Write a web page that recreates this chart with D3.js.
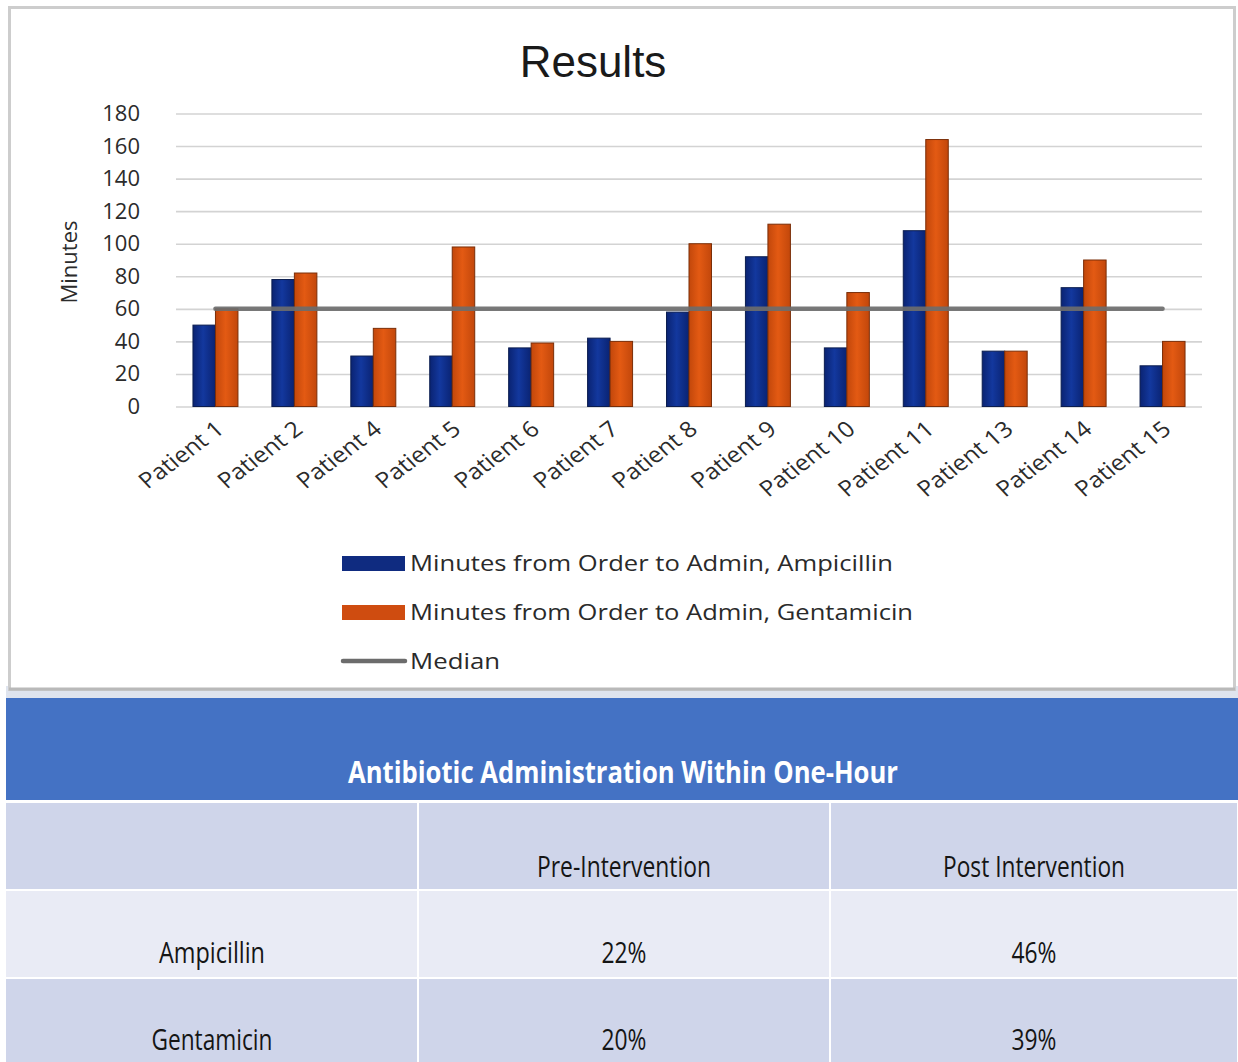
<!DOCTYPE html>
<html>
<head>
<meta charset="utf-8">
<script src="https://cdn.jsdelivr.net/npm/d3@7"></script>
<style>
    body { margin: 0; background: #ffffff; }
    svg { display: block; }
</style>
</head>
<body>
<div id="chart"></div>
<script>

const patients = ["Patient 1", "Patient 2", "Patient 4", "Patient 5", "Patient 6", "Patient 7", "Patient 8",
    "Patient 9", "Patient 10", "Patient 11", "Patient 13", "Patient 14", "Patient 15"];
const ampicillin = [50, 78, 31, 31, 36, 42, 58, 92, 36, 108, 34, 73, 25];
const gentamicin = [60, 82, 48, 98, 39, 40, 100, 112, 70, 164, 34, 90, 40];
const medianValues = [60, 60, 60, 60, 60, 60, 60, 60, 60, 60, 60, 60, 60];
const yTicks = [0, 20, 40, 60, 80, 100, 120, 140, 160, 180];

const seriesNames = ["Minutes from Order to Admin, Ampicillin", "Minutes from Order to Admin, Gentamicin", "Median"];

const tableTitle = "Antibiotic Administration Within One-Hour";
const tableHeader = ["", "Pre-Intervention", "Post Intervention"];
const tableDrugs = ["Ampicillin", "Gentamicin"];
const preIntervention = ["22%", "20%"];
const postIntervention = ["46%", "39%"];

const W = 1238, H = 1062;
const svg = d3.select("#chart").append("svg")
    .attr("width", W)
    .attr("height", H);

const defs = svg.append("defs");
function barGradient(id, edge, mid) {
    let g = defs.append("linearGradient").attr("id", id)
        .attr("x1", "0%").attr("x2", "100%").attr("y1", "0%").attr("y2", "0%");
    g.append("stop").attr("offset", "0%").attr("stop-color", edge);
    g.append("stop").attr("offset", "45%").attr("stop-color", mid);
    g.append("stop").attr("offset", "100%").attr("stop-color", edge);
}
barGradient("gradBlue", "#0a2372", "#13389e");
barGradient("gradOrange", "#c2470b", "#e35a13");

// chart panel
svg.append("rect")
    .attr("x", 6).attr("y", 686).attr("width", 1232).attr("height", 12)
    .attr("fill", "#dfe4ee");
svg.append("rect")
    .attr("x", 9.5).attr("y", 7.5).attr("width", 1225).attr("height", 682)
    .attr("fill", "#ffffff")
    .attr("stroke", "#cdcdcd")
    .attr("stroke-width", 3);
svg.append("line")
    .attr("x1", 9).attr("x2", 1235).attr("y1", 689).attr("y2", 689)
    .attr("stroke", "#b9b9b9").attr("stroke-width", 3);

const plot = {left: 176, right: 1202, top: 113.5, bottom: 406.5};

const x = d3.scaleBand()
    .domain(patients)
    .range([plot.left, plot.right])
    .paddingInner(0.43)
    .paddingOuter(0.215);

const xSub = d3.scaleBand()
    .domain(["amp", "gen"])
    .range([0, x.bandwidth()]);

const y = d3.scaleLinear()
    .domain([0, 180])
    .range([plot.bottom, plot.top]);

// title
svg.append("text")
    .text("Results")
    .attr("x", 593)
    .attr("y", 77)
    .attr("text-anchor", "middle")
    .attr("font-family", "Liberation Sans, Arial, sans-serif")
    .attr("font-size", 44)
    .attr("fill", "#1a1a1a");

// y axis + gridlines
const yAxis = svg.append("g")
    .attr("transform", `translate(${plot.left},0)`)
    .call(d3.axisLeft(y).tickValues(yTicks).tickSize(-(plot.right - plot.left)).tickPadding(36));
yAxis.select(".domain").remove();
yAxis.selectAll("line")
    .attr("stroke", "#d3d3d3")
    .attr("stroke-width", 1.6);
yAxis.selectAll("text")
    .attr("font-family", "Open Sans, sans-serif")
    .attr("font-size", 22)
    .attr("fill", "#2b2b2b");

svg.append("text")
    .text("Minutes")
    .attr("transform", "translate(77,262) rotate(-90)")
    .attr("text-anchor", "middle")
    .attr("font-family", "Open Sans, sans-serif")
    .attr("font-size", 22)
    .attr("fill", "#2b2b2b");

// x axis labels (slightly widened, as in the source image)
const xAxis = svg.append("g")
    .attr("transform", `translate(0,${plot.bottom})`)
    .call(d3.axisBottom(x).tickSize(0));
xAxis.select(".domain").remove();
xAxis.selectAll("text")
    .attr("text-anchor", "end")
    .attr("dy", 0)
    .attr("y", 0)
    .attr("transform", "translate(10,25) scale(1.12,1) rotate(-40)")
    .attr("font-family", "Open Sans, sans-serif")
    .attr("font-size", 22)
    .attr("fill", "#2b2b2b");

// bars
const groups = svg.selectAll(".patient")
    .data(patients)
    .enter()
    .append("g")
    .attr("class", "patient")
    .attr("transform", d => `translate(${x(d)},0)`);

groups.append("rect")
    .attr("x", xSub("amp"))
    .attr("y", (d, i) => y(ampicillin[i]))
    .attr("width", xSub.bandwidth())
    .attr("height", (d, i) => y(0) - y(ampicillin[i]))
    .attr("fill", "url(#gradBlue)")
    .attr("stroke", "#0b1d4f")
    .attr("stroke-width", 1);

groups.append("rect")
    .attr("x", xSub("gen"))
    .attr("y", (d, i) => y(gentamicin[i]))
    .attr("width", xSub.bandwidth())
    .attr("height", (d, i) => y(0) - y(gentamicin[i]))
    .attr("fill", "url(#gradOrange)")
    .attr("stroke", "#7a2e08")
    .attr("stroke-width", 1);

// median line
const medianLine = d3.line()
    .x((d, i) => x(patients[i]) + x.bandwidth() / 2)
    .y(d => y(d));

svg.append("path")
    .datum(medianValues)
    .attr("d", medianLine)
    .attr("fill", "none")
    .attr("stroke", "#6c6c6c")
    .attr("stroke-width", 4.5)
    .attr("stroke-linecap", "round")
    .attr("opacity", 0.92);

// legend
const legendY = [563, 612, 661];
const legendLen = [483, 503, 90];
const legend = svg.selectAll(".legend")
    .data(seriesNames)
    .enter()
    .append("g")
    .attr("class", "legend")
    .attr("transform", (d, i) => `translate(342,${legendY[i]})`);

legend.filter((d, i) => i < 2).append("rect")
    .attr("x", 0)
    .attr("y", -7)
    .attr("width", 63)
    .attr("height", 15)
    .attr("fill", (d, i) => i === 0 ? "#0f2b80" : "#cf4c10");

legend.filter((d, i) => i === 2).append("line")
    .attr("x1", 1).attr("x2", 63)
    .attr("y1", 0).attr("y2", 0)
    .attr("stroke", "#6c6c6c")
    .attr("stroke-width", 4.5)
    .attr("stroke-linecap", "round");

legend.append("text")
    .text(d => d)
    .attr("x", 68)
    .attr("y", 8)
    .attr("textLength", (d, i) => legendLen[i])
    .attr("lengthAdjust", "spacingAndGlyphs")
    .attr("font-family", "Open Sans, sans-serif")
    .attr("font-size", 22)
    .attr("fill", "#2a2a2a");

// table
const colX = [6, 418, 830, 1238];
const rowY = [801, 889, 977, 1062];
const rowFill = ["#cfd5ea", "#e9ebf5", "#cfd5ea"];

svg.append("rect")
    .attr("x", 6).attr("y", 698).attr("width", 1232).attr("height", 102)
    .attr("fill", "#4472c4");

svg.append("text")
    .text(tableTitle)
    .attr("x", 623)
    .attr("y", 783)
    .attr("text-anchor", "middle")
    .attr("textLength", 550)
    .attr("lengthAdjust", "spacingAndGlyphs")
    .attr("font-family", "Open Sans, sans-serif")
    .attr("font-weight", "bold")
    .attr("font-size", 31)
    .attr("fill", "#ffffff");

const rows = [tableHeader, [tableDrugs[0], preIntervention[0], postIntervention[0]],
    [tableDrugs[1], preIntervention[1], postIntervention[1]]];
const textLens = [[0, 174, 182], [106, 45, 45], [121, 45, 45]];
const baselines = [877, 963, 1050];

rows.forEach(function(row, r) {
    row.forEach(function(cell, c) {
        svg.append("rect")
            .attr("x", colX[c] + (c > 0 ? 1 : 0))
            .attr("y", rowY[r] + 2)
            .attr("width", colX[c + 1] - colX[c] - (c > 0 ? 1 : 0) - 1)
            .attr("height", rowY[r + 1] - rowY[r] - 2)
            .attr("fill", rowFill[r]);
        if (cell !== "") {
            svg.append("text")
                .text(cell)
                .attr("x", (colX[c] + colX[c + 1]) / 2)
                .attr("y", baselines[r])
                .attr("text-anchor", "middle")
                .attr("textLength", textLens[r][c])
                .attr("lengthAdjust", "spacingAndGlyphs")
                .attr("font-family", "Open Sans, sans-serif")
                .attr("font-size", 29)
                .attr("fill", "#151515");
        }
    });
});

</script>
</body>
</html>
